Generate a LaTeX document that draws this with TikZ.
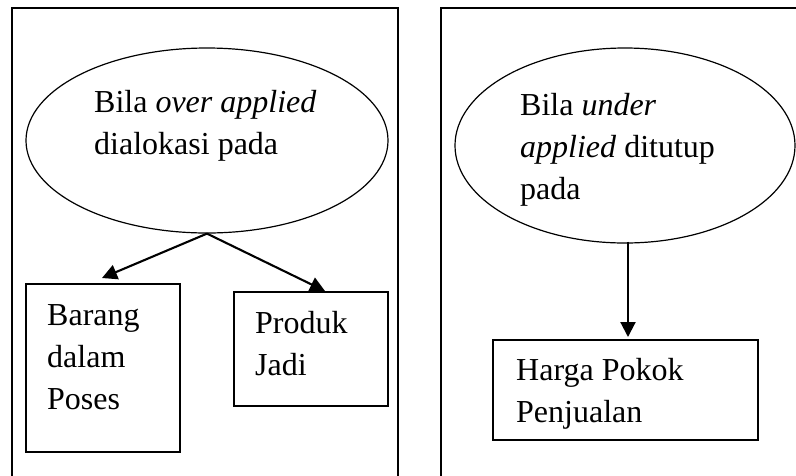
\documentclass[tikz,border=0pt]{standalone}
\usepackage{fontspec}
\setmainfont{Liberation Serif}
\usetikzlibrary{arrows.meta,shapes.geometric}
\begin{document}
\begin{tikzpicture}[x=1pt,y=-1pt,
  frame/.style={line width=2pt},
  bubble/.style={draw,ellipse,line width=1.2pt,inner sep=0pt},
  stepbox/.style={draw,rectangle,line width=2pt,inner sep=0pt},
  txt/.style={anchor=base west,inner sep=0pt,font=\fontsize{32}{42}\selectfont},
  arr/.style={line width=2.1pt,-{Triangle[length=15pt,width=15pt]}}]
\useasboundingbox (0,0) rectangle (796,475);
% panel frames (open at the bottom)
\draw[frame] (12,476) -- (12,8) -- (398,8) -- (398,476);
\draw[frame] (441,476) -- (441,8) -- (797,8);
% left panel
\node[bubble,minimum width=362pt,minimum height=185pt] (e1) at (207,140.5) {};
\node[txt] (t1) at (94,112) {\begin{tabular}[t]{@{}l@{}}Bila \textit{over applied}\\dialokasi pada\end{tabular}};
\node[stepbox,minimum width=154pt,minimum height=168pt] (b1) at (103,368) {};
\node[txt] (t2) at (47,325) {\begin{tabular}[t]{@{}l@{}}Barang\\dalam\\Poses\end{tabular}};
\node[stepbox,minimum width=154pt,minimum height=114pt] (b2) at (311,349) {};
\node[txt] (t3) at (255,333) {\begin{tabular}[t]{@{}l@{}}Produk\\Jadi\end{tabular}};
\draw[arr] (e1.south) -- ([xshift=-1pt,yshift=5pt]b1.north);
\draw[arr] (e1.south) -- ([xshift=14pt]b2.north);
% right panel
\node[bubble,minimum width=340pt,minimum height=195pt] (e2) at (625,145.5) {};
\node[txt] (t4) at (520,115) {\begin{tabular}[t]{@{}l@{}}Bila \textit{under}\\\textit{applied} ditutup\\pada\end{tabular}};
\node[stepbox,minimum width=265pt,minimum height=100pt] (b3) at (625.5,390) {};
\node[txt] (t5) at (516,380) {\begin{tabular}[t]{@{}l@{}}Harga Pokok\\Penjualan\end{tabular}};
\draw[arr] ([xshift=3pt,yshift=2pt]e2.south) -- ([xshift=2.5pt,yshift=2pt]b3.north);
\end{tikzpicture}
\end{document}
